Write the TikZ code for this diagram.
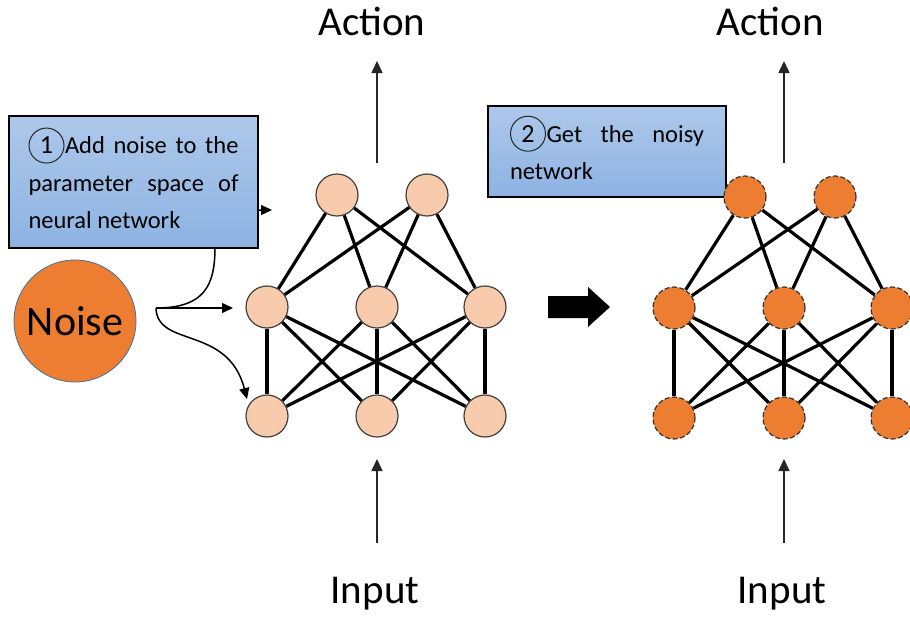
\documentclass[tikz,border=0pt]{standalone}
\usepackage{fontspec}
\setmainfont{Carlito}
\usetikzlibrary{arrows.meta}
\newcommand\cnum[1]{\raisebox{0pt}[19pt][0pt]{\tikz[baseline=(cn.base)]\node[circle, draw=black!85, line width=1pt,
  inner sep=0pt, minimum size=35pt, anchor=center, font=\fontsize{26}{26}\selectfont] (cn) {#1};}\hspace{0.5pt}}
\definecolor{nlight}{HTML}{F8CBAD}
\definecolor{norange}{HTML}{ED7D31}
\definecolor{nborder}{HTML}{41719C}
\definecolor{boxtop}{HTML}{ADC8EA}
\definecolor{boxbot}{HTML}{8DB3E2}
\hyphenpenalty=10000
\tolerance=10000
\begin{document}
\begin{tikzpicture}[x=1pt,y=-1pt,
  neuron/.style={circle, minimum size=42pt, inner sep=0pt, line width=1.2pt},
  plainn/.style={neuron, fill=nlight, draw=black!75},
  noisyn/.style={neuron, fill=norange, draw=black!80, dash pattern=on 5pt off 2.5pt},
  edge/.style={line width=3.2pt},
  io/.style={line width=1.6pt, draw=black!85, -{Triangle[length=12pt,width=11pt]}},
  cur/.style={line width=1.5pt, -{Triangle[length=11pt,width=10pt]}},
  lbl/.style={font=\fontsize{41}{49}\selectfont, inner sep=0pt, anchor=base},
  note/.style={draw=black, line width=2pt, top color=boxtop, bottom color=boxbot,
    rectangle, anchor=north west, align=justify,
    font=\fontsize{24.5}{37.5}\selectfont}
]
\useasboundingbox (0,0) rectangle (910,619);

% Noise
\node[circle, fill=norange, draw=nborder, line width=0.8pt, minimum size=122pt,
  inner sep=0pt, font=\fontsize{42}{50}\selectfont] (noise) at (75,321) {Noise};
\coordinate (src) at (156,308);
\coordinate (t1) at (272,210);
\coordinate (t2) at (233,308);
\coordinate (t3) at (247,399);

% curved arrows (the first passes under box 1)
\draw[cur] (src) .. controls (205,308) and (215,285) .. (215,247)
  .. controls (215,218) and (235,210) .. (t1);
\draw[cur] (src) -- (t2);
\draw[cur] (src) .. controls (157,348) and (228,325) .. (t3);

% boxes
\node[note, text width=210pt, inner xsep=19pt, minimum width=249pt,
  minimum height=132pt] (box1) at (8,115)
  {\cnum{1}Add noise to the\linebreak parameter space of\linebreak neural network};
\node[note, text width=194pt, inner xsep=21pt, minimum width=238pt,
  minimum height=91pt] (box2) at (487,105)
  {\cnum{2}Get the noisy\linebreak network};

% left network
\node[plainn] (a1) at (337,195) {};
\node[plainn] (a2) at (427,195) {};
\node[plainn] (b1) at (267,307) {};
\node[plainn] (b2) at (377,307) {};
\node[plainn] (b3) at (485,307) {};
\node[plainn] (c1) at (267,416) {};
\node[plainn] (c2) at (377,416) {};
\node[plainn] (c3) at (485,416) {};
\foreach \u in {a1,a2}{\foreach \v in {b1,b2,b3}{\draw[edge] (\u) -- (\v);}}
\foreach \u in {b1,b2,b3}{\foreach \v in {c1,c2,c3}{\draw[edge] (\u) -- (\v);}}

% right network
\node[noisyn] (d1) at (745,197) {};
\node[noisyn] (d2) at (835,197) {};
\node[noisyn] (e1) at (674,308) {};
\node[noisyn] (e2) at (784,308) {};
\node[noisyn] (e3) at (892,308) {};
\node[noisyn] (f1) at (674,418) {};
\node[noisyn] (f2) at (784,418) {};
\node[noisyn] (f3) at (892,418) {};
\foreach \u in {d1,d2}{\foreach \v in {e1,e2,e3}{\draw[edge] (\u) -- (\v);}}
\foreach \u in {e1,e2,e3}{\foreach \v in {f1,f2,f3}{\draw[edge] (\u) -- (\v);}}

% block arrow
\fill[black] (548,296) -- (588,296) -- (588,287) -- (610,307) -- (588,327)
  -- (588,318) -- (548,318) -- cycle;

% labels and io arrows
\node[lbl] (act1) at (372,35) {Action};
\node[lbl] (act2) at (770,35) {Action};
\node[lbl] (in1) at (375,603) {Input};
\node[lbl] (in2) at (782,603) {Input};
\coordinate (ao1) at (377,163); \coordinate (ae1) at (377,61);
\coordinate (ao2) at (784,163); \coordinate (ae2) at (784,61);
\coordinate (io1) at (377,543); \coordinate (ie1) at (377,459);
\coordinate (io2) at (784,543); \coordinate (ie2) at (784,459);
\draw[io] (ao1) -- (ae1);
\draw[io] (ao2) -- (ae2);
\draw[io] (io1) -- (ie1);
\draw[io] (io2) -- (ie2);
\end{tikzpicture}
\end{document}
